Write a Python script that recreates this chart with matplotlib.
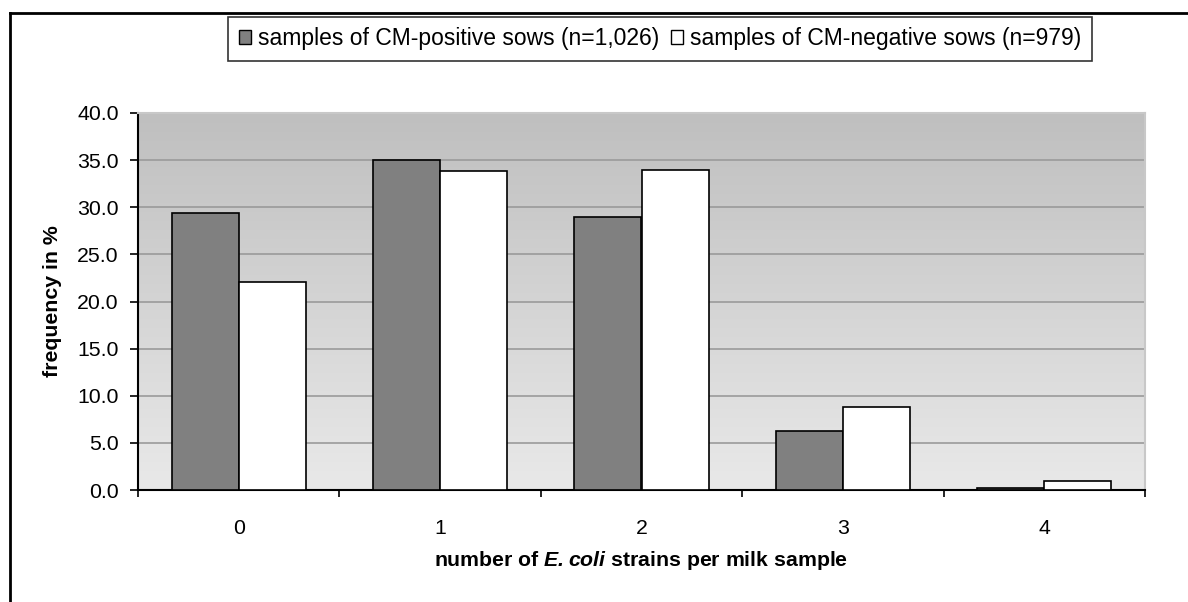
import numpy as np
import matplotlib.pyplot as plt
from matplotlib.lines import Line2D
from matplotlib.patches import Patch
from matplotlib.ticker import MultipleLocator, FixedLocator

plt.rcParams['font.family'] = ['Liberation Sans', 'DejaVu Sans']
plt.rcParams['mathtext.fontset'] = 'custom'
plt.rcParams['mathtext.rm'] = 'Liberation Sans:bold'
plt.rcParams['mathtext.bfit'] = 'Liberation Sans:bold:italic'

# --- data ---
categories = ['0', '1', '2', '3', '4']
cm_positive = [29.4, 35.0, 29.0, 6.3, 0.2]
cm_negative = [22.1, 33.8, 34.0, 8.8, 1.0]
legend_labels = ['samples of CM-positive sows (n=1,026)',
                 'samples of CM-negative sows (n=979)']

W, H = 1188, 602
fig = plt.figure(figsize=(W / 100, H / 100), dpi=100)
ax = fig.add_axes([138 / W, 1 - 490 / H, (1145 - 138) / W, (490 - 113) / H])

x = np.arange(len(categories))
bw = 1 / 3

# gradient background of the plot area
grad = np.linspace(0, 1, 256).reshape(-1, 1)
ax.imshow(grad, aspect='auto', cmap=plt.matplotlib.colors.LinearSegmentedColormap.from_list(
    'bg', ['#e9e9e9', '#bfbfbf']), origin='lower',
    extent=[-0.5, 4.5, 0, 40], zorder=0)

ax.bar(x - bw / 2, cm_positive, bw, color='#808080', edgecolor='black', linewidth=1.2, zorder=3)
ax.bar(x + bw / 2, cm_negative, bw, color='white', edgecolor='black', linewidth=1.2, zorder=3)

ax.set_xlim(-0.5, 4.5)
ax.set_ylim(0, 40)
ax.yaxis.set_major_locator(MultipleLocator(5))
ax.yaxis.set_major_formatter(plt.FuncFormatter(lambda v, p: f'{v:.1f}'))
ax.grid(axis='y', color='#9a9a9a', linewidth=1.2, zorder=1)

fs = 15.3
ax.set_xticks(x)
ax.set_xticklabels(categories)
ax.xaxis.set_minor_locator(FixedLocator(np.arange(-0.5, 5, 1)))
ax.tick_params(axis='x', which='major', length=0, pad=21, labelsize=fs)
ax.tick_params(axis='x', which='minor', length=5, width=1.2, direction='out')
ax.tick_params(axis='y', length=6, width=1.2, direction='out', pad=8, labelsize=fs)

for s in ['left', 'bottom']:
    ax.spines[s].set_linewidth(1.5)
    ax.spines[s].set_color('black')
for s in ['top', 'right']:
    ax.spines[s].set_color('#c8c8c8')
    ax.spines[s].set_linewidth(1.5)

ax.set_ylabel('frequency in %', fontsize=fs, fontweight='bold')
ax.yaxis.set_label_coords((62 - 138) / 1007, 0.5)
fig.text((138 + 1145) / 2 / W, 1 - 560 / H,
         r'number of $\mathbfit{E.coli}$ strains per milk sample',
         ha='center', va='center', fontsize=fs, fontweight='bold')

handles = [Patch(facecolor='#808080', edgecolor='black', linewidth=1),
           Patch(facecolor='white', edgecolor='black', linewidth=1)]
leg = fig.legend(handles, legend_labels, ncol=2, loc='center',
                 bbox_to_anchor=(660 / W, 1 - 39 / H), frameon=True, fancybox=False,
                 edgecolor='black', fontsize=16.5, handlelength=0.55, handleheight=0.55,
                 handletextpad=0.3, columnspacing=0.5, borderpad=0.45, borderaxespad=0)
leg.get_frame().set_linewidth(1.2)

# outer frame lines (left and top visible)
fig.add_artist(Line2D([10 / W, 10 / W], [0, 1 - 13 / H], color='black', linewidth=2,
                      transform=fig.transFigure))
fig.add_artist(Line2D([10 / W, 1], [1 - 13 / H, 1 - 13 / H], color='black', linewidth=2,
                      transform=fig.transFigure))

fig.savefig('out.png', dpi=100)
